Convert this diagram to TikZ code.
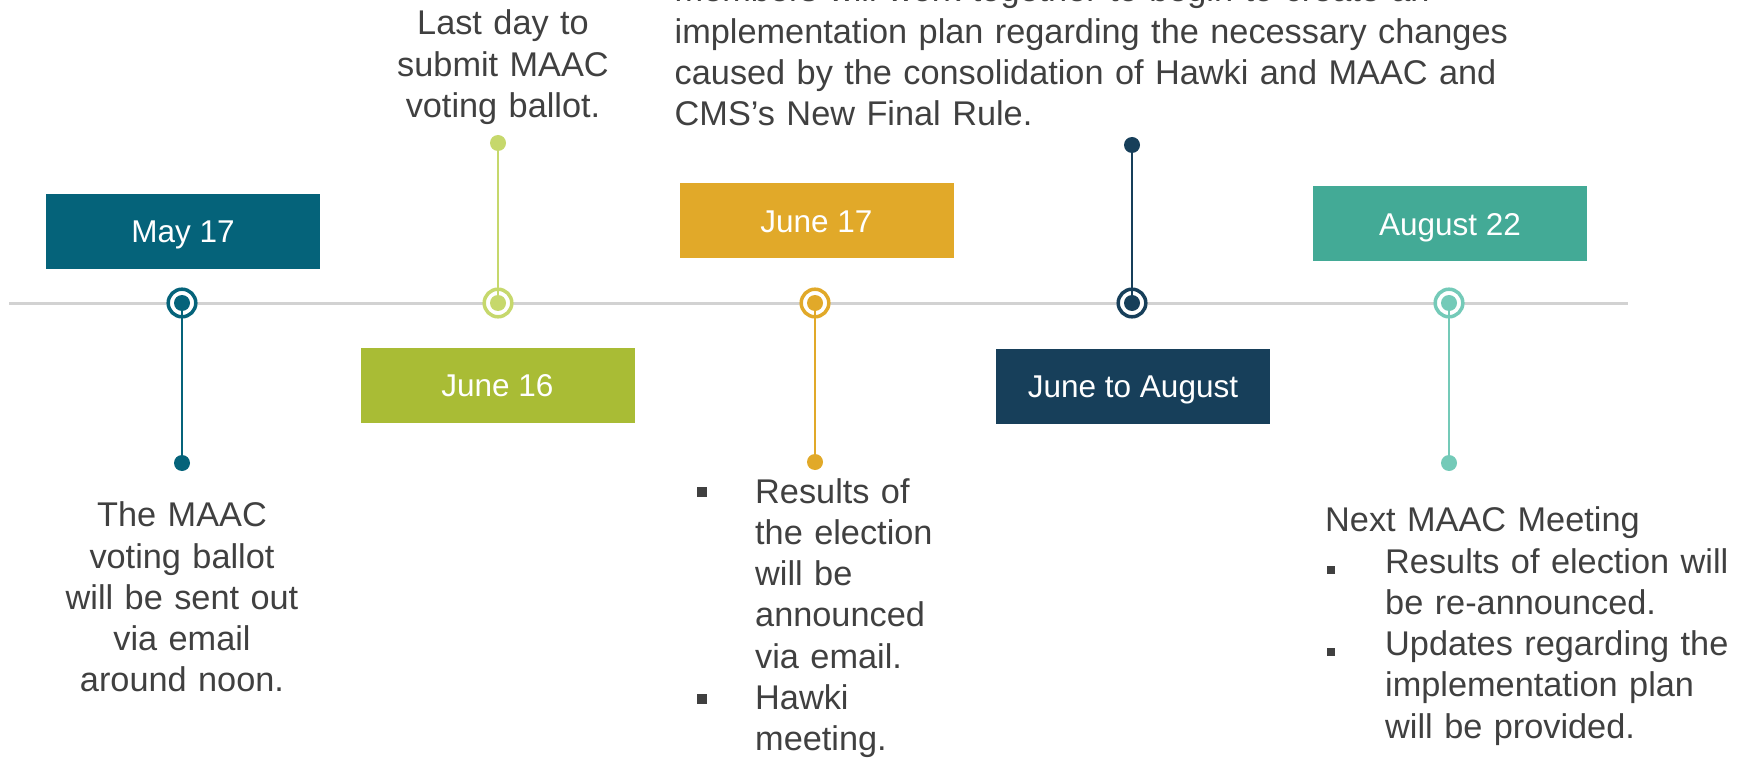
\documentclass[tikz,border=0pt]{standalone}
\usepackage{fontspec}
\setmainfont{Liberation Sans}
\definecolor{cA}{HTML}{05637A}
\definecolor{cBbox}{HTML}{A9BC35}
\definecolor{cB}{HTML}{C6D86C}
\definecolor{cC}{HTML}{E1A929}
\definecolor{cD}{HTML}{173F5A}
\definecolor{cEbox}{HTML}{43AA96}
\definecolor{cE}{HTML}{74CAB8}
\definecolor{txt}{HTML}{404040}
\definecolor{axis}{HTML}{D2D2D2}
\begin{document}
\begin{tikzpicture}[x=1pt,y=-1pt,
  datebox/.style={rectangle, minimum width=274pt, minimum height=75pt, inner sep=0pt,
    text=white, font=\fontsize{31.5}{38}\selectfont, text height=22.5pt, text depth=0pt},
  ring/.style={circle, draw=#1, fill=white, line width=3.5pt, minimum size=27.6pt, inner sep=0pt},
  dot/.style={circle, fill=#1, minimum size=16pt, inner sep=0pt},
  stem/.style={draw=#1, line width=2.7pt},
  body/.style={inner sep=0pt, text=txt, font=\fontsize{34.3}{41.3}\selectfont},
  bul/.style={fill=txt}
]
\useasboundingbox (0,0) rectangle (1742,759);
\clip (0,0) rectangle (1742,759);

% axis
\coordinate (axL) at (9,303);
\coordinate (axR) at (1628,303);
\draw[axis, line width=3pt] (axL) -- (axR);

% date boxes
\node[datebox, fill=cA]     (b1) at (183,231.5) {May 17};
\node[datebox, fill=cBbox]  (b2) at (497.5,385) {June 16};
\node[datebox, fill=cC]     (b3) at (816.5,221) {June 17};
\node[datebox, fill=cD]     (b4) at (1133,386.5) {June to August};
\node[datebox, fill=cEbox]  (b5) at (1450,224) {August 22};

% markers
\node[ring=cA] (m1) at (182,303) {};
\node[dot=cA]  (e1) at (182,463) {};
\draw[stem=cA] (m1.center) -- (e1.center);
\node[dot=cA]  (d1) at (182,303) {};

\node[ring=cB] (m2) at (498,303) {};
\node[dot=cB]  (e2) at (498,143) {};
\draw[stem=cB] (m2.center) -- (e2.center);
\node[dot=cB]  (d2) at (498,303) {};

\node[ring=cC] (m3) at (815,303) {};
\node[dot=cC]  (e3) at (815,462) {};
\draw[stem=cC] (m3.center) -- (e3.center);
\node[dot=cC]  (d3) at (815,303) {};

\node[ring=cD] (m4) at (1132,303) {};
\node[dot=cD]  (e4) at (1132,145) {};
\draw[stem=cD] (m4.center) -- (e4.center);
\node[dot=cD]  (d4) at (1132,303) {};

\node[ring=cE] (m5) at (1449,303) {};
\node[dot=cE]  (e5) at (1449,463) {};
\draw[stem=cE] (m5.center) -- (e5.center);
\node[dot=cE]  (d5) at (1449,303) {};

% texts
\node[body, anchor=base, text width=300pt, align=center] (t1) at (182,526.7)
  {The MAAC\\voting ballot\\will be sent out\\via email\\around noon.};

\node[body, anchor=base, text width=300pt, align=center] (t2) at (503,35)
  {Last day to\\submit MAAC\\voting ballot.};

\node[body, anchor=base west, text width=200pt, align=left] (t3) at (755,503)
  {Results of\\the election\\will be\\announced\\via email.\\Hawki\\meeting.};
\fill[bul] (697,487) rectangle (707,497);
\fill[bul] (697,694) rectangle (707,704);

\node[body, anchor=base west, text width=1000pt, align=left] (t4) at (674.5,2)
  {members will work together to begin to create an\\implementation plan regarding the necessary changes\\caused by the consolidation of Hawki and MAAC and\\CMS’s New Final Rule.};

\node[body, anchor=base west, text width=400pt, align=left] (t5a) at (1325,531.7)
  {Next MAAC Meeting};
\node[body, anchor=base west, text width=400pt, align=left] (t5b) at (1385,573)
  {Results of election will\\be re-announced.\\Updates regarding the\\implementation plan\\will be provided.};
\fill[bul] (1327,566) rectangle (1335,574);
\fill[bul] (1327,648) rectangle (1335,656);
\end{tikzpicture}
\end{document}
